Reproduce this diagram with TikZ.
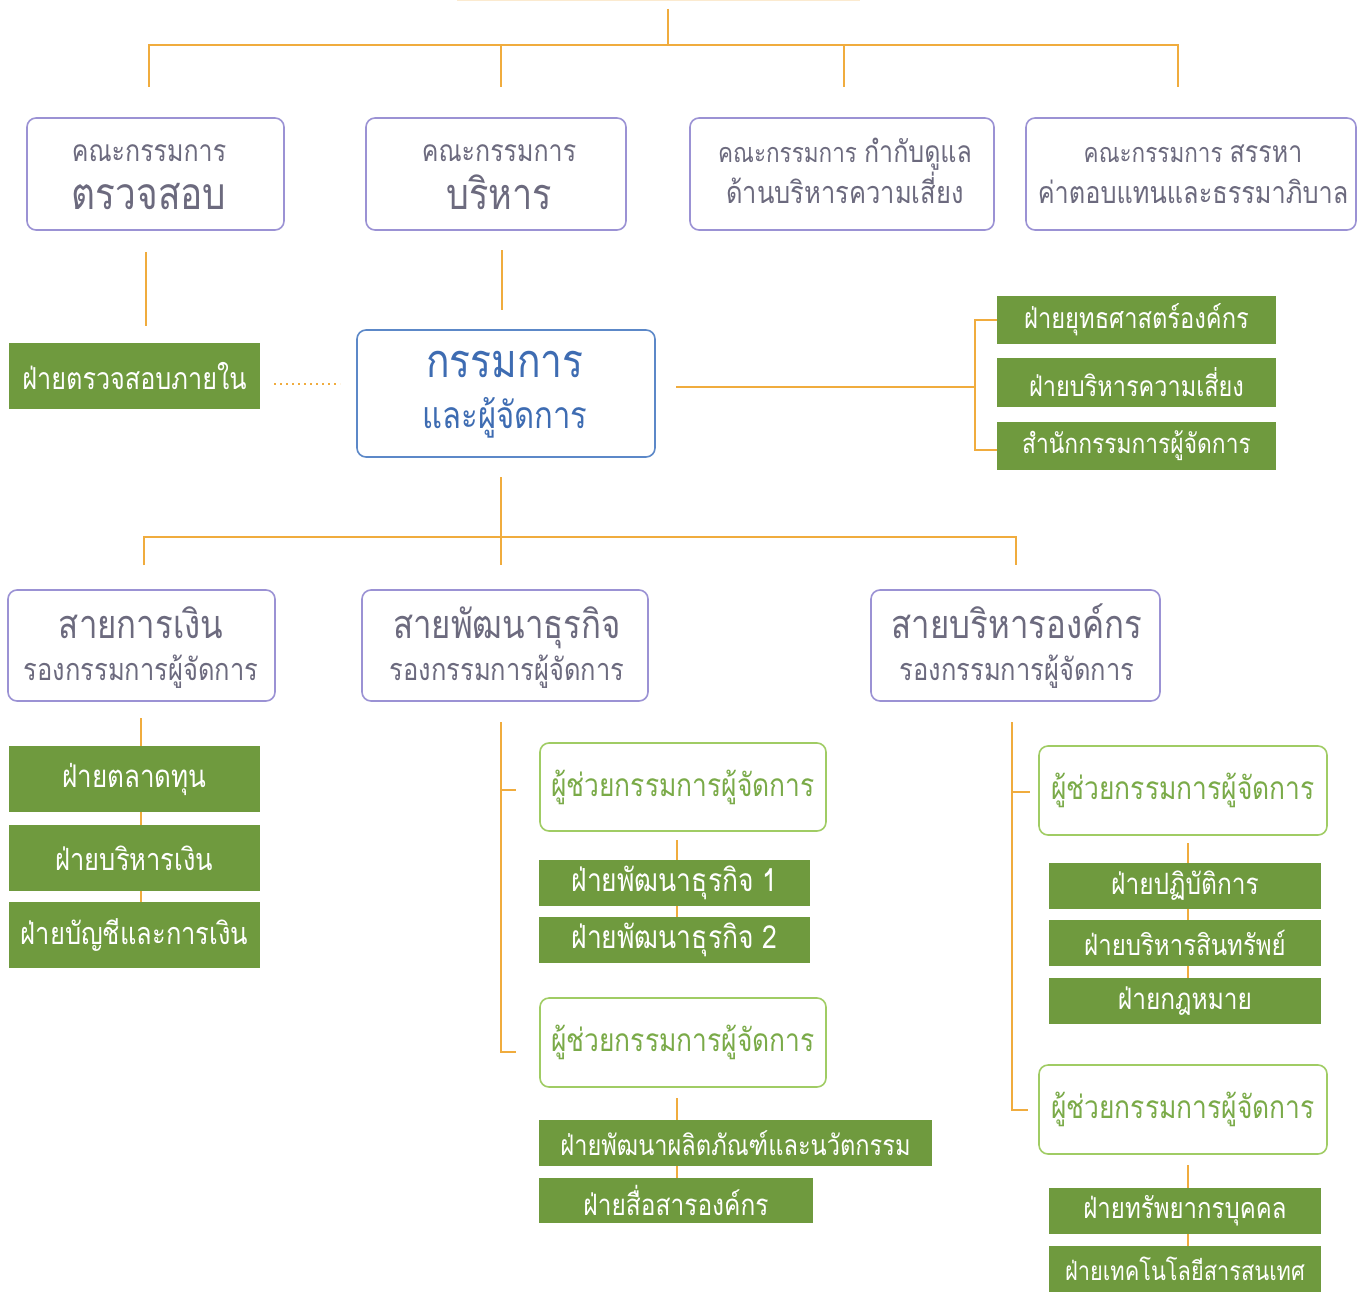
\documentclass[tikz,border=0pt]{standalone}
\usepackage{fontspec}
\setmainfont[Script=Thai]{Loma}
\definecolor{orangeL}{RGB}{240,172,62}
\definecolor{purpleB}{RGB}{155,146,212}
\definecolor{grayT}{RGB}{108,106,126}
\definecolor{blueB}{RGB}{92,136,200}
\definecolor{blueT}{RGB}{62,108,178}
\definecolor{greenF}{RGB}{111,154,62}
\definecolor{greenB}{RGB}{160,204,100}
\definecolor{greenT}{RGB}{122,170,72}
\newcommand\fs[1]{\fontsize{#1}{#1}\selectfont}
% \tx{size}{text}: text stretched a little vertically (condensed look)
\newcommand\tx[2]{\scalebox{1}[1.2]{\fs{#1}#2}}
\begin{document}
\begin{tikzpicture}[x=1pt,y=-1pt,
  conn/.style={draw=orangeL,line width=1.8pt},
  purplebox/.style={draw=purpleB,line width=1.6pt,rounded corners=9pt,fill=white,inner sep=0pt},
  purpletext/.style={text=grayT,inner sep=0pt,anchor=base},
  bluebox/.style={draw=blueB,line width=1.6pt,rounded corners=9pt,fill=white,inner sep=0pt},
  bluetext/.style={text=blueT,inner sep=0pt,anchor=base},
  greenbox/.style={fill=greenF,text=white,align=center,inner sep=0pt},
  asstbox/.style={draw=greenB,line width=1.6pt,rounded corners=9pt,fill=white,align=center,inner sep=0pt,text=greenT}]
\useasboundingbox (0,0) rectangle (1364,1292);
\fill[white] (0,0) rectangle (1364,1292);

% faint edge of the box above
\coordinate (topL) at (457,1);
\coordinate (topR) at (860,1);
\draw[draw=orangeL!25,line width=1pt] (topL) -- (topR);

% ---------- row 1 ----------
\node[purplebox,minimum width=257pt,minimum height=112pt] (n1) at (155.5,174) {};
\node[purplebox,minimum width=260pt,minimum height=112pt] (n2) at (496,174) {};
\node[purplebox,minimum width=304pt,minimum height=112pt] (n3) at (842,174) {};
\node[purplebox,minimum width=330pt,minimum height=112pt] (n4) at (1191,174) {};
\node[purpletext] (n1a) at (149,162) {\tx{25}{คณะกรรมการ}};
\node[purpletext] (n1b) at (149,209) {\tx{37}{ตรวจสอบ}};
\node[purpletext] (n2a) at (499,162) {\tx{25}{คณะกรรมการ}};
\node[purpletext] (n2b) at (499,209) {\tx{36}{บริหาร}};
\node[purpletext] (n3a) at (845,163) {\tx{22.5}{คณะกรรมการ}\hspace{7pt}\tx{25}{กำกับดูแล}};
\node[purpletext] (n3b) at (845,203) {\tx{25.5}{ด้านบริหารความเสี่ยง}};
\node[purpletext] (n4a) at (1193,163) {\tx{22.5}{คณะกรรมการ}\hspace{7pt}\tx{25}{สรรหา}};
\node[purpletext] (n4b) at (1193,203) {\tx{25.3}{ค่าตอบแทนและธรรมาภิบาล}};

\coordinate (r0) at (668,9);
\coordinate (r0b) at (668,45);
\coordinate (hL) at (149,45);
\coordinate (hR) at (1178,45);
\coordinate (d1) at (149,87);
\coordinate (d2a) at (501,45);
\coordinate (d2) at (501,87);
\coordinate (d3a) at (844,45);
\coordinate (d3) at (844,87);
\coordinate (d4) at (1178,87);
\draw[conn] (r0) -- (r0b);
\draw[conn] (d1) -- (hL) -- (hR) -- (d4);
\draw[conn] (d2a) -- (d2);
\draw[conn] (d3a) -- (d3);

% ---------- row 2 ----------
\node[bluebox,minimum width=298pt,minimum height=127pt] (c) at (506,393.5) {};
\node[bluetext] (ca) at (505,377) {\tx{39}{กรรมการ}};
\node[bluetext] (cb) at (505,428) {\tx{31}{และผู้จัดการ}};
\node[greenbox,minimum width=251pt,minimum height=66pt] (audit) at (134.5,376) {\tx{25.2}{ฝ่ายตรวจสอบภายใน}};

\coordinate (u1a) at (146,252);
\coordinate (u1b) at (146,326);
\coordinate (u2a) at (502,250);
\coordinate (u2b) at (502,310);
\draw[conn] (u1a) -- (u1b);
\draw[conn] (u2a) -- (u2b);
\coordinate (dotA) at (274,384);
\coordinate (dotB) at (340,384);
\draw[draw=orangeL,line width=1.6pt,dash pattern=on 2pt off 4pt] (dotA) -- (dotB);

\node[greenbox,minimum width=279pt,minimum height=48pt] (g1) at (1136.5,320) {\tx{23.7}{ฝ่ายยุทธศาสตร์องค์กร}};
\node[greenbox,minimum width=279pt,minimum height=49pt] (g2) at (1136.5,382.5) {\tx{23.5}{ฝ่ายบริหารความเสี่ยง}};
\node[greenbox,minimum width=279pt,minimum height=48pt] (g3) at (1136.5,446) {\tx{22.8}{สำนักกรรมการผู้จัดการ}};
\coordinate (cr) at (676,387);
\coordinate (bx) at (975,387);
\coordinate (bt) at (975,320);
\coordinate (bb) at (975,450);
\draw[conn] (cr) -- (bx);
\draw[conn] (g1.west) -- (bt) -- (bb) -- (g3.west |- bb);

% ---------- row 3 ----------
\coordinate (m0) at (501,477);
\coordinate (m1) at (501,537);
\coordinate (mL) at (144,537);
\coordinate (mR) at (1016,537);
\coordinate (mLd) at (144,565);
\coordinate (mMd) at (501,565);
\coordinate (mRd) at (1016,565);
\draw[conn] (m0) -- (m1);
\draw[conn] (mLd) -- (mL) -- (mR) -- (mRd);
\draw[conn] (m1) -- (mMd);

\node[purplebox,minimum width=267pt,minimum height=111pt] (s1) at (141.5,645.5) {};
\node[purplebox,minimum width=286pt,minimum height=111pt] (s2) at (505,645.5) {};
\node[purplebox,minimum width=289pt,minimum height=111pt] (s3) at (1015.5,645.5) {};
\node[purpletext] (s1a) at (141,638) {\tx{33}{สายการเงิน}};
\node[purpletext] (s1b) at (141,680) {\tx{25.5}{รองกรรมการผู้จัดการ}};
\node[purpletext] (s2a) at (507,638) {\tx{33}{สายพัฒนาธุรกิจ}};
\node[purpletext] (s2b) at (507,680) {\tx{25.5}{รองกรรมการผู้จัดการ}};
\node[purpletext] (s3a) at (1017,638) {\tx{33}{สายบริหารองค์กร}};
\node[purpletext] (s3b) at (1017,680) {\tx{25.5}{รองกรรมการผู้จัดการ}};

% ---------- left column ----------
\coordinate (l0) at (141,718);
\coordinate (l1) at (141,902);
\draw[conn] (l0) -- (l1);
\node[greenbox,minimum width=251pt,minimum height=66pt] (f1) at (134.5,779) {\tx{26}{ฝ่ายตลาดทุน}};
\node[greenbox,minimum width=251pt,minimum height=66pt] (f2) at (134.5,858) {\tx{25.5}{ฝ่ายบริหารเงิน}};
\node[greenbox,minimum width=251pt,minimum height=66pt] (f3) at (134.5,935) {\tx{25.5}{ฝ่ายบัญชีและการเงิน}};

% ---------- middle column ----------
\node[asstbox,minimum width=286pt,minimum height=88pt] (a1) at (683,787) {\tx{26.4}{ผู้ช่วยกรรมการผู้จัดการ}};
\node[asstbox,minimum width=286pt,minimum height=89pt] (a2) at (683,1042.5) {\tx{26.4}{ผู้ช่วยกรรมการผู้จัดการ}};
\coordinate (v0) at (501,722);
\coordinate (v1) at (501,1052);
\coordinate (v1e) at (516,1052);
\coordinate (vt) at (501,790);
\coordinate (vte) at (516,790);
\draw[conn] (v0) -- (v1) -- (v1e);
\draw[conn] (vt) -- (vte);
\coordinate (w0) at (677,840);
\coordinate (w1) at (677,925);
\draw[conn] (w0) -- (w1);
\node[greenbox,minimum width=271pt,minimum height=46pt] (p1) at (674.5,883) {\tx{26.5}{ฝ่ายพัฒนาธุรกิจ 1}};
\node[greenbox,minimum width=271pt,minimum height=46pt] (p2) at (674.5,940) {\tx{26.5}{ฝ่ายพัฒนาธุรกิจ 2}};
\coordinate (w2) at (677,1098);
\coordinate (w3) at (677,1178);
\draw[conn] (w2) -- (w3);
\node[greenbox,minimum width=393pt,minimum height=46pt] (p3) at (735.5,1143) {\tx{23.6}{ฝ่ายพัฒนาผลิตภัณฑ์และนวัตกรรม}};
\node[greenbox,minimum width=274pt,minimum height=45pt] (p4) at (676,1200.5) {\tx{24.5}{ฝ่ายสื่อสารองค์กร}};

% ---------- right column ----------
\node[asstbox,minimum width=288pt,minimum height=89pt] (b1) at (1183,790.5) {\tx{26.4}{ผู้ช่วยกรรมการผู้จัดการ}};
\node[asstbox,minimum width=288pt,minimum height=89pt] (b2) at (1183,1109.5) {\tx{26.4}{ผู้ช่วยกรรมการผู้จัดการ}};
\coordinate (x0) at (1012,722);
\coordinate (x1) at (1012,1110);
\coordinate (x1e) at (1028,1110);
\coordinate (xt) at (1012,792);
\coordinate (xte) at (1030,792);
\draw[conn] (x0) -- (x1) -- (x1e);
\draw[conn] (xt) -- (xte);
\coordinate (y0) at (1188,843);
\coordinate (y1) at (1188,1000);
\draw[conn] (y0) -- (y1);
\node[greenbox,minimum width=272pt,minimum height=46pt] (e1) at (1185,886) {\tx{24.5}{ฝ่ายปฏิบัติการ}};
\node[greenbox,minimum width=272pt,minimum height=46pt] (e2) at (1185,943) {\tx{24}{ฝ่ายบริหารสินทรัพย์}};
\node[greenbox,minimum width=272pt,minimum height=46pt] (e3) at (1185,1001) {\tx{24.5}{ฝ่ายกฎหมาย}};
\coordinate (y2) at (1188,1165);
\coordinate (y3) at (1188,1250);
\draw[conn] (y2) -- (y3);
\node[greenbox,minimum width=272pt,minimum height=46pt] (e4) at (1185,1211) {\tx{24}{ฝ่ายทรัพยากรบุคคล}};
\node[greenbox,minimum width=272pt,minimum height=46pt] (e5) at (1185,1269) {\tx{21.8}{ฝ่ายเทคโนโลยีสารสนเทศ}};
\end{tikzpicture}
\end{document}
